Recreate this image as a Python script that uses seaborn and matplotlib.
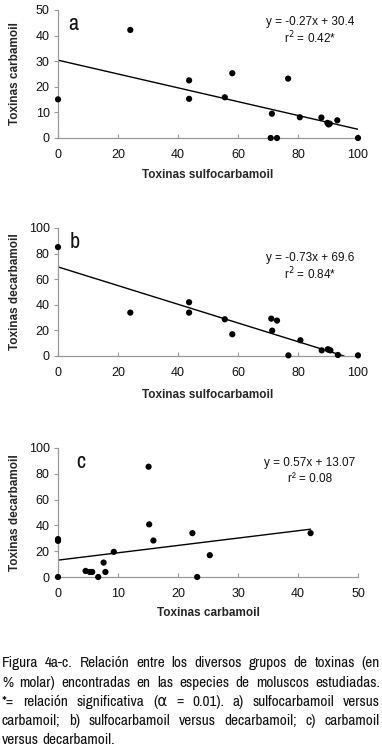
import numpy as np
import pandas as pd
import matplotlib
matplotlib.use('Agg')
import matplotlib.pyplot as plt
import seaborn as sns
from matplotlib import font_manager as fm

# panel a: sulfocarbamoil vs carbamoil
a_x = [0, 24.1, 43.7, 43.7, 55.6, 58.1, 76.7, 71.3, 70.9, 73.0, 80.6, 87.8, 89.8, 90.2, 90.6, 93.1, 100]
a_y = [15.1, 42.2, 22.5, 15.3, 15.9, 25.3, 23.2, 9.5, 0, 0, 8.1, 8.0, 5.9, 5.3, 5.6, 6.9, 0]
a_fit = (-0.27, 30.4)

# panel b: sulfocarbamoil vs decarbamoil
b_x = [0, 24.1, 43.7, 43.7, 55.6, 58.1, 71.1, 73.0, 71.4, 76.8, 80.8, 87.9, 89.9, 90.2, 90.8, 93.3, 100]
b_y = [85.1, 33.9, 42.0, 33.9, 28.7, 17.0, 29.2, 27.7, 19.8, 0.5, 12.3, 4.4, 5.2, 5.0, 4.4, 0.8, 0.5]
b_fit = (-0.73, 69.6)

# panel c: carbamoil vs decarbamoil
c_x = [0, 0, 0, 4.6, 5.3, 5.7, 6.7, 7.6, 7.9, 9.3, 15.1, 15.2, 15.9, 22.4, 23.2, 25.3, 42.1]
c_y = [29.4, 28.0, 0, 4.7, 3.9, 3.9, 0, 11.2, 3.9, 19.5, 85.5, 40.8, 28.3, 34.0, 0, 16.9, 34.0]
c_fit = (0.57, 13.07)

caption_lines = [
    "Figura 4a-c. Relación entre los diversos grupos de toxinas (en",
    "% molar) encontradas en las especies de moluscos estudiadas.",
    "*= relación significativa (α = 0.01). a) sulfocarbamoil versus",
    "carbamoil; b) sulfocarbamoil versus decarbamoil; c) carbamoil",
    "versus decarbamoil.",
]

sns.set_style('white')
plt.rcParams['font.family'] = ['Liberation Sans', 'DejaVu Sans']

# look for a narrow font for the caption and panel letters
narrow = None
for f in fm.fontManager.ttflist:
    fn = f.fname.lower()
    if 'narrow' in fn and 'bold' not in fn and 'italic' not in fn:
        narrow = f.fname
        break
if narrow:
    narrow_name = fm.FontProperties(fname=narrow).get_name()
    narrow_fp = lambda size: fm.FontProperties(family=[narrow_name, 'DejaVu Sans'], size=size)
else:
    narrow_fp = lambda size: fm.FontProperties(family=['DejaVu Sans'], stretch='condensed', size=size)

W, H = 382, 746
fig = plt.figure(figsize=(W / 100, H / 100), dpi=100)

panels = [
    dict(x=a_x, y=a_y, fit=a_fit, top=10, bot=138, ylim=50, ystep=10, xlim=100, xstep=20,
         xlabel='Toxinas sulfocarbamoil', ylabel='Toxinas carbamoil', letter='a',
         eq='y = -0.27x + 30.4', r2='r$^2$ = 0.42*', eqy=22, xl=175, lx=68),
    dict(x=b_x, y=b_y, fit=b_fit, top=228, bot=356, ylim=100, ystep=20, xlim=100, xstep=20,
         xlabel='Toxinas sulfocarbamoil', ylabel='Toxinas decarbamoil', letter='b',
         eq='y = -0.73x + 69.6', r2='r$^2$ = 0.84*', eqy=258, xl=395, lx=70),
    dict(x=c_x, y=c_y, fit=c_fit, top=448, bot=577, ylim=100, ystep=20, xlim=50, xstep=10,
         xlabel='Toxinas carbamoil', ylabel='Toxinas decarbamoil', letter='c',
         eq='y = 0.57x + 13.07', r2='r² = 0.08', eqy=463, xl=613, lx=76),
]

left, right = 58, 358
for p in panels:
    ax = fig.add_axes([left / W, 1 - p['bot'] / H, (right - left) / W, (p['bot'] - p['top']) / H])
    df = pd.DataFrame({'x': p['x'], 'y': p['y']})
    sns.scatterplot(data=df, x='x', y='y', ax=ax, color='black', s=20,
                    edgecolor='none', clip_on=False, zorder=3)
    m, b = p['fit']
    x0 = min(p['x'])
    x1 = max(p['x'])
    if m < 0:
        x1 = min(x1, -b / m)
    xs = np.array([x0, x1])
    ax.plot(xs, m * xs + b, color='black', lw=1.0, zorder=2)
    ax.set_xlim(0, p['xlim'])
    ax.set_ylim(0, p['ylim'])
    ax.set_xticks(np.arange(0, p['xlim'] + 1, p['xstep']))
    ax.set_yticks(np.arange(0, p['ylim'] + 1, p['ystep']))
    sns.despine(ax=ax)
    for s in ('left', 'bottom'):
        ax.spines[s].set_color('#999999')
        ax.spines[s].set_linewidth(0.9)
    ax.tick_params(axis='x', direction='in', length=3, color='#999999', labelsize=9,
                   pad=8, labelcolor='#111111', bottom=True)
    ax.tick_params(axis='y', direction='out', length=3, color='#999999', labelsize=9,
                   pad=3, labelcolor='#111111', left=True)
    ax.set_xlabel('')
    ax.set_ylabel(p['ylabel'], fontsize=8.5, fontweight='bold', labelpad=4)
    ax.yaxis.set_label_coords(-37 / (right - left), 0.5)
    fig.text(((left + right) / 2) / W, 1 - p['xl'] / H, p['xlabel'], fontsize=8.5,
             fontweight='bold', ha='center', va='center')
    fig.text(310 / W, 1 - p['eqy'] / H, p['eq'], fontsize=8.5, ha='center', va='center',
             color='#111111')
    fig.text(310 / W, 1 - (p['eqy'] + 16) / H, p['r2'], fontsize=8.5, ha='center', va='center',
             color='#111111')
    fig.text(p['lx'] / W, 1 - (p['top'] + 20) / H, p['letter'], fontproperties=narrow_fp(16),
             ha='left', va='baseline', color='#111111')

# justified caption
renderer = fig.canvas.get_renderer()
cap_fp = narrow_fp(11)


def text_width(s):
    t = fig.text(0, 0, s, fontproperties=cap_fp)
    w = t.get_window_extent(renderer).width
    t.remove()
    return w


x_left, x_right = 2, 380
baselines = [667, 687, 706, 725, 744]
space = text_width('a a') - 2 * text_width('a')
for i, (line, base) in enumerate(zip(caption_lines, baselines)):
    words = line.split(' ')
    widths = [text_width(w) for w in words]
    if i == len(caption_lines) - 1:
        gap = space
    else:
        gap = (x_right - x_left - sum(widths)) / (len(words) - 1)
    xpos = x_left
    for w, wd in zip(words, widths):
        fig.text(xpos / W, 1 - base / H, w, fontproperties=cap_fp, ha='left', va='baseline',
                 color='#111111')
        xpos += wd + gap

fig.savefig('out.png', dpi=100)
